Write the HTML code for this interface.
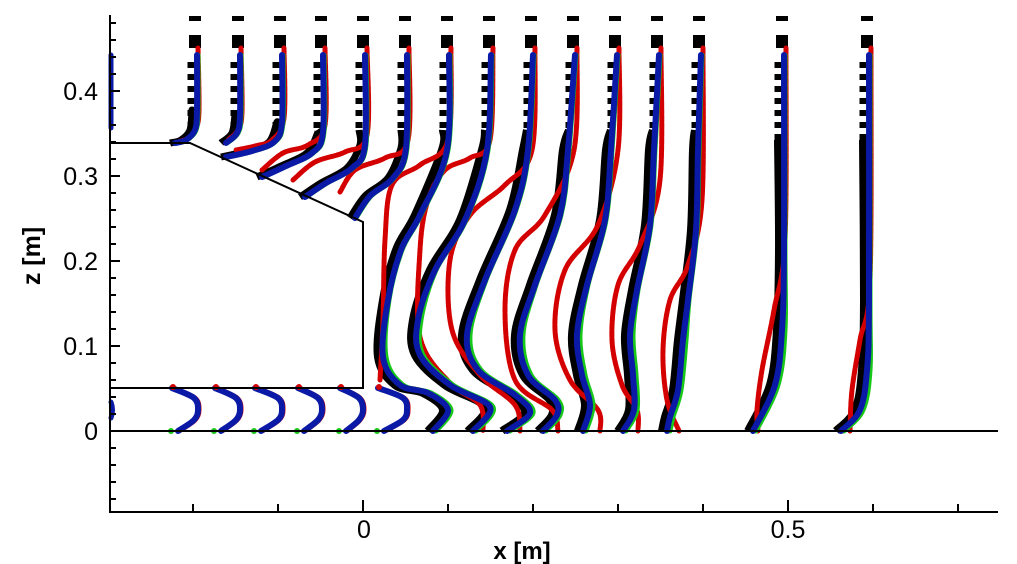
<!DOCTYPE html>
<html><head><meta charset="utf-8"><style>
html,body{margin:0;padding:0;background:#fff;}
svg{display:block;}
text{font-family:"Liberation Sans",sans-serif;}
</style></head><body>
<svg id="s" width="1017" height="564" viewBox="0 0 1017 564" xmlns="http://www.w3.org/2000/svg">
<g id="prof" fill="none" stroke-linecap="round" stroke-linejoin="round"></g>
<g stroke="#000" stroke-width="2" fill="none">
<line x1="110" y1="431" x2="998" y2="431"/>
<polyline points="110,388 363,388 363,222 190,143 110,143"/>
<line x1="110" y1="15" x2="110" y2="513"/>
<line x1="109" y1="512" x2="998" y2="512"/>
</g>
<g id="ticks" stroke="#000" stroke-width="2"></g>
<g font-size="25" fill="#000" text-anchor="end">
<text x="98" y="100">0.4</text>
<text x="98" y="185">0.3</text>
<text x="98" y="270">0.2</text>
<text x="98" y="355">0.1</text>
<text x="98" y="440">0</text>
</g>
<g font-size="25" fill="#000" text-anchor="middle">
<text x="364" y="538">0</text>
<text x="788" y="538">0.5</text>
<text x="522" y="559" font-size="24" font-weight="bold">x [m]</text>
<text transform="translate(40,256) rotate(-90)" font-weight="bold">z [m]</text>
</g>
</svg>
<script>
var NS="http://www.w3.org/2000/svg";
var g=document.getElementById('prof');
var t=document.getElementById('ticks');
function el(p,tag,a){var e=document.createElementNS(NS,tag);for(var k in a)e.setAttribute(k,a[k]);p.appendChild(e);return e;}
function cr(P){var d="M"+P[0][0]+","+P[0][1];
 for(var i=0;i<P.length-1;i++){var p0=P[i-1]||P[i],p1=P[i],p2=P[i+1],p3=P[i+2]||P[i+1];
 d+=" C"+(p1[0]+(p2[0]-p0[0])/6).toFixed(1)+","+(p1[1]+(p2[1]-p0[1])/6).toFixed(1)+" "+(p2[0]-(p3[0]-p1[0])/6).toFixed(1)+","+(p2[1]-(p3[1]-p1[1])/6).toFixed(1)+" "+p2[0]+","+p2[1];}
 return d;}
function off(P,f){return P.map(function(p){return [p[0]+f(p[1]),p[1]];});}
for(var z=-0.08;z<=0.49;z+=0.02){var y=431-z*850;var maj=Math.abs(Math.round(z*10)-z*10)<1e-6;
 el(t,'line',{x1:110,y1:y,x2:110+(maj?10:6),y2:y});}
for(var x=-0.2;x<=0.75;x+=0.1){var px=363+x*850;var maj=Math.abs(x)<1e-6||Math.abs(x-0.5)<1e-6;
 el(t,'line',{x1:px,y1:512,x2:px,y2:512-(maj?12:8)});}
var cols=[
 [[197,55],[197,110],[195,130],[186,140],[175,143]],
 [[240,55],[240,115],[237,133],[226,143]],
 [[282,55],[282,122],[274,142],[252,151],[226,157]],
 [[323,55],[323,132],[312,153],[286,166],[262,177]],
 [[365,55],[365,145],[352,168],[326,183],[305,197]],
 [[407,55],[406,148],[393,178],[370,196],[355,218]],
 [[449,55],[447,150],[420,215],[401,250],[388,300],[383,357],[400,385],[428,393],[448,410],[433,431]],
 [[491,55],[487,150],[465,220],[435,270],[418,320],[420,355],[450,385],[490,407],[473,431]],
 [[533,55],[528,150],[515,210],[485,280],[467,335],[478,370],[515,395],[530,413],[507,431]],
 [[575,55],[568,150],[560,215],[535,285],[520,335],[528,375],[555,400],[557,415],[543,431]],
 [[617,55],[611,150],[605,220],[587,285],[577,335],[582,375],[590,405],[583,431]],
 [[659,55],[654,150],[650,225],[637,290],[630,335],[633,375],[634,410],[623,431]],
 [[701,55],[698,150],[696,230],[688,300],[683,340],[678,390],[670,417],[667,431]],
 [[784,55],[784,250],[782,330],[775,385],[753,431]],
 [[869,55],[869,300],[867,370],[860,410],[841,431]]
];
var reds=[
 [[198,48],[199,110],[196,128],[188,138],[178,142]],
 [[241,48],[242,112],[238,130],[228,140]],
 [[284,48],[284,118],[272,140],[255,146],[236,150]],
 [[325,48],[325,125],[308,145],[283,153],[262,170]],
 [[367,48],[367,135],[345,152],[315,162],[293,180]],
 [[409,48],[408,140],[385,158],[355,170],[340,192]],
 [[451,48],[448,140],[420,165],[392,185],[385,240],[383,320],[380,380]],
 [[493,48],[490,140],[470,158],[445,170],[428,200],[420,250],[420,337],[450,383],[480,405],[483,431]],
 [[535,48],[532,150],[505,185],[470,215],[450,260],[452,330],[480,375],[515,405],[520,431]],
 [[577,48],[574,150],[545,215],[515,250],[505,310],[515,380],[552,410],[558,431]],
 [[619,48],[618,150],[598,225],[565,270],[555,330],[570,380],[598,410],[600,431]],
 [[661,48],[660,180],[640,245],[618,285],[612,340],[622,385],[637,410],[638,431]],
 [[703,48],[702,200],[688,265],[670,300],[663,350],[667,400],[679,431]],
 [[786,48],[785,240],[774,310],[762,370],[757,410],[758,431]],
 [[871,48],[870,280],[860,340],[852,390],[850,431]]
];
cols.forEach(function(P,i){var T=P[0][0];
 el(g,'rect',{x:T-8,y:16,width:12,height:5,fill:'#000',stroke:'none'});
 el(g,'rect',{x:T-8,y:35,width:12,height:13,fill:'#000',stroke:'none'});
 var topEnd=i>=13?140:130;
 el(g,'path',{d:'M'+(T-6)+',62 V'+topEnd,stroke:'#000','stroke-width':7,'stroke-linecap':'butt','stroke-dasharray':'6 6'});
 var B=off(P.slice(1),function(y){return -5;});
 B.unshift([T-6,topEnd]);
 el(g,'path',{d:cr(B),stroke:'#000','stroke-width':i>=6?8:7,'stroke-linecap':'butt'});
});
reds.forEach(function(P){if(P)el(g,'path',{d:cr(P),stroke:'#d40000','stroke-width':5,'stroke-dasharray':'6 1.5'});});
cols.forEach(function(P){el(g,'path',{d:cr(off(P,function(y){return y>300?3:1;})),stroke:'#18c818','stroke-width':5});});
cols.forEach(function(P){el(g,'path',{d:cr(P),stroke:'#0a1aa6','stroke-width':6});});
[[172,198],[215,240],[255,282],[298,322],[340,363],[378,407]].forEach(function(c){
 var b=c[0],m=c[1];var P=[[b+6,431],[m-4,420],[m,410],[m-4,398],[b,388]];
 el(g,'path',{d:cr(off(P,function(){return 1;})),stroke:'#d40000','stroke-width':5});
 el(g,'path',{d:cr(P),stroke:'#0a1aa6','stroke-width':6});
 el(g,'circle',{cx:b-1,cy:431,r:3,fill:'#18c818',stroke:'none'});
 el(g,'circle',{cx:b+1,cy:387,r:3,fill:'#d40000',stroke:'none'});
});
el(g,'path',{d:'M111,55 V128',stroke:'#0a1aa6','stroke-width':5});
el(g,'path',{d:'M111,402 Q114,410 111,418',stroke:'#0a1aa6','stroke-width':5});
</script>
</body></html>
